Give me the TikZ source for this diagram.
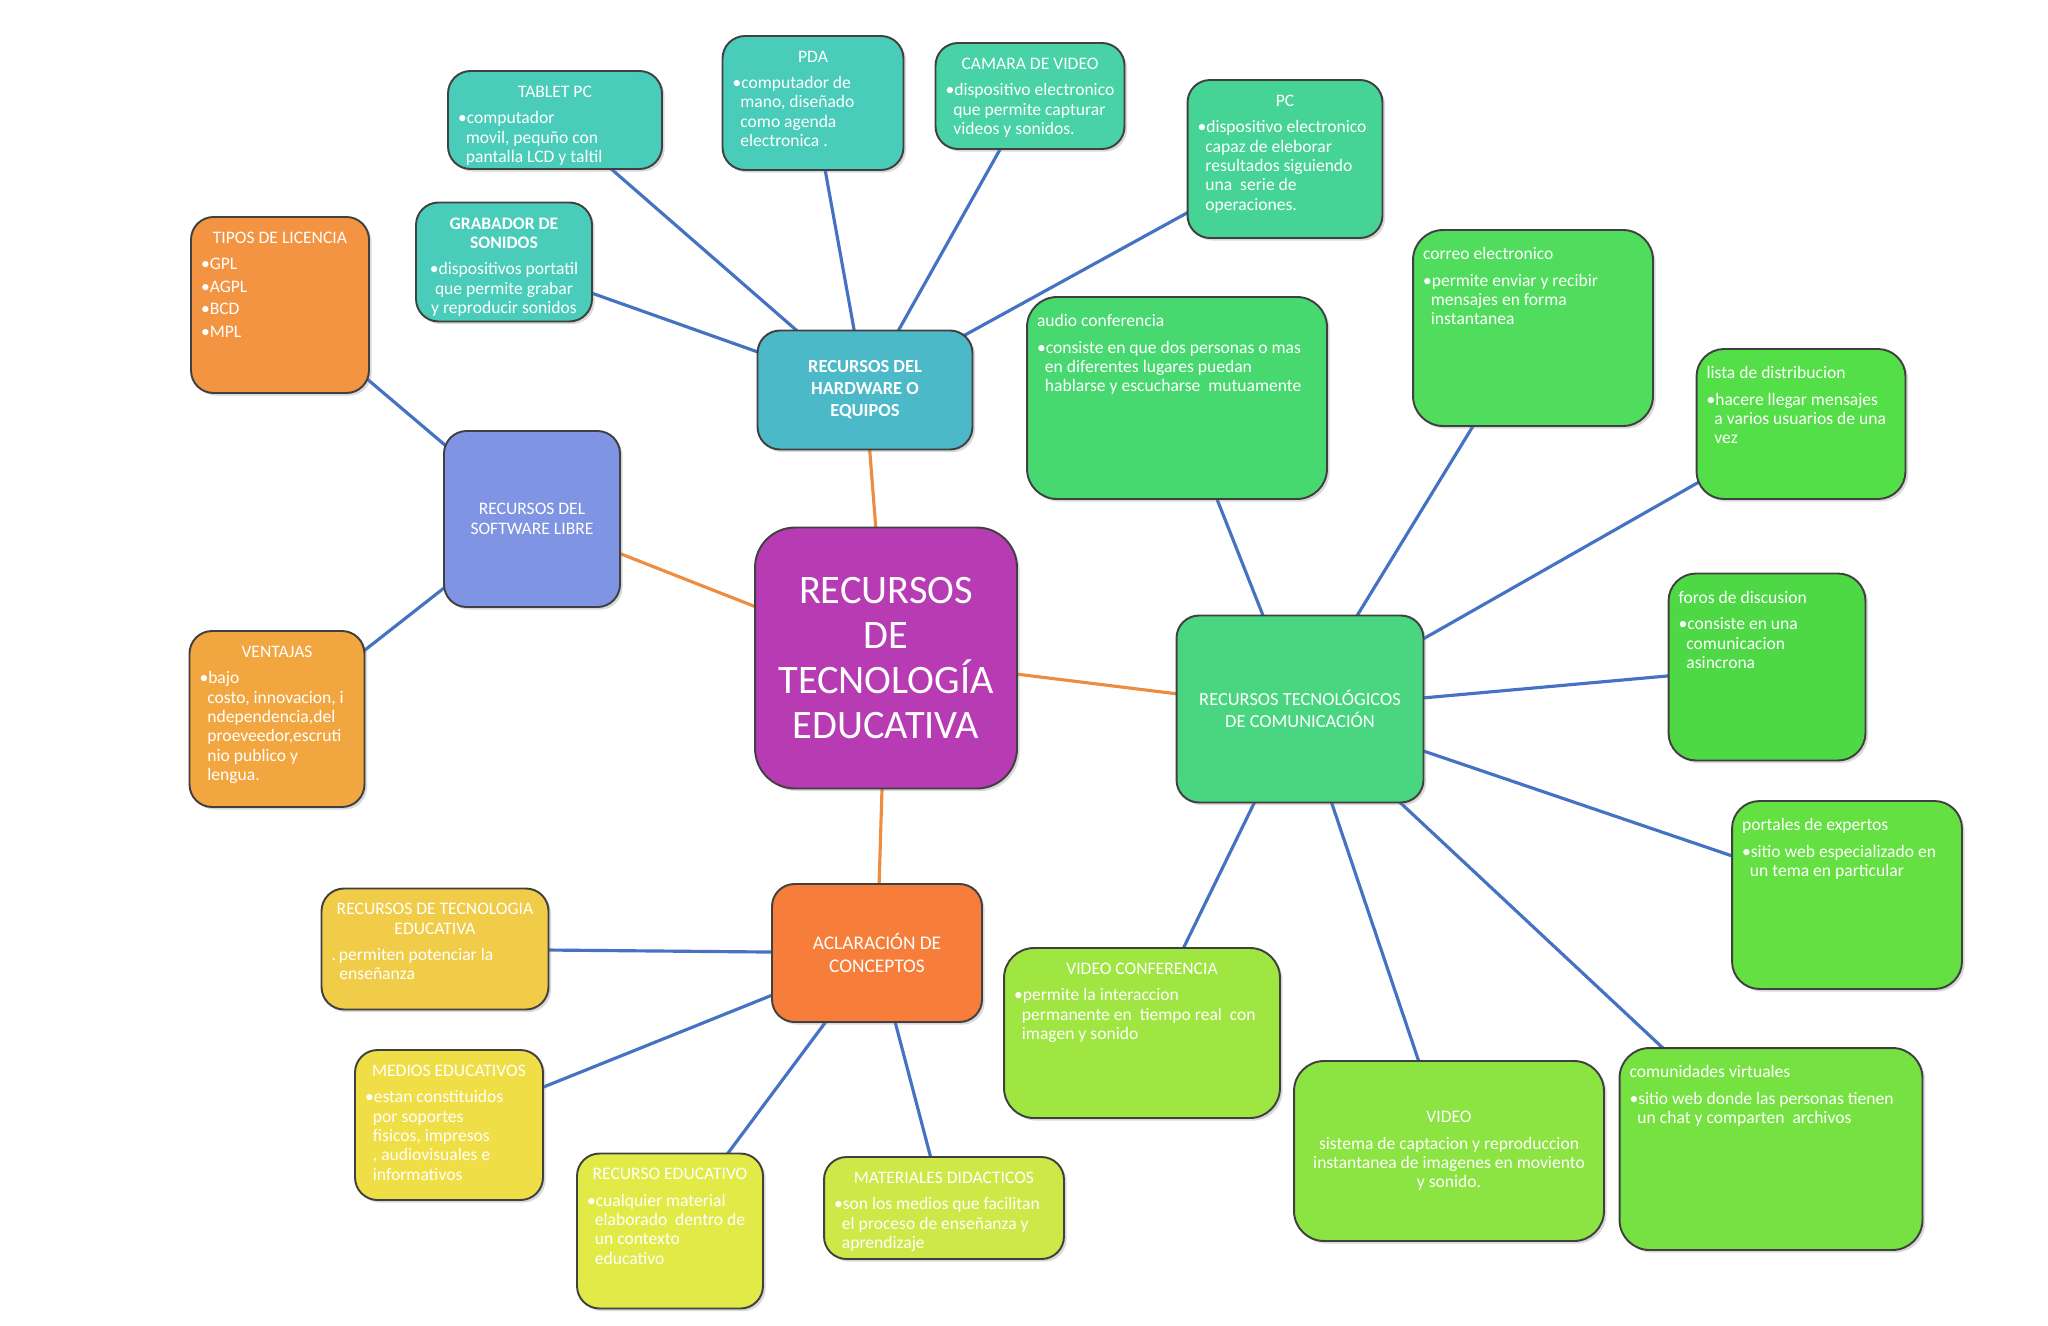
\documentclass[tikz,border=0pt]{standalone}
\usepackage{fontspec}
\setmainfont{Carlito}
\usepackage{tikz}
\usetikzlibrary{backgrounds,shadows}

\definecolor{hubpurple}{RGB}{183,59,178}
\definecolor{hwblue}{RGB}{75,185,200}
\definecolor{devteal}{RGB}{73,204,185}
\definecolor{camgreen}{RGB}{72,210,165}
\definecolor{pcgreen}{RGB}{70,212,150}
\definecolor{swblue}{RGB}{128,148,228}
\definecolor{licorange}{RGB}{242,148,66}
\definecolor{ventorange}{RGB}{242,166,64}
\definecolor{comgreen}{RGB}{74,214,128}
\definecolor{audiogreen}{RGB}{72,216,112}
\definecolor{mailgreen}{RGB}{80,220,92}
\definecolor{listgreen}{RGB}{84,222,72}
\definecolor{forogreen}{RGB}{78,216,70}
\definecolor{portgreen}{RGB}{100,224,66}
\definecolor{comugreen}{RGB}{118,226,66}
\definecolor{videogreen}{RGB}{140,228,66}
\definecolor{vconfgreen}{RGB}{160,230,66}
\definecolor{aclorange}{RGB}{246,126,58}
\definecolor{rteyellow}{RGB}{240,204,72}
\definecolor{medyellow}{RGB}{240,222,70}
\definecolor{recyellow}{RGB}{226,234,72}
\definecolor{matyellow}{RGB}{206,232,72}
\definecolor{linkblue}{RGB}{70,114,196}
\definecolor{linkorange}{RGB}{238,140,64}

\newcommand{\cardbul}[2][\textbullet]{\par{\let\\\newline\hangindent=0.45em\hangafter=1\noindent#1#2\par}}

\begin{document}
\begin{tikzpicture}[x=0.02cm, y=-0.02cm,
    card/.style={rectangle, rounded corners=0.45cm, draw=black!75, line width=1.1pt, text=white, inner xsep=0.2cm, inner ysep=0.3cm, font=\fontsize{10}{11}\selectfont, drop shadow={shadow xshift=1.5pt, shadow yshift=-1.5pt, opacity=0.3}},
    link/.style={draw=linkblue, line width=1.8pt},
    trunk/.style={draw=linkorange, line width=1.8pt}
]
\useasboundingbox (0,0) rectangle (2048,1325);

\node[card, fill=hubpurple, rounded corners=0.8cm, minimum width=5.24cm, minimum height=5.22cm, align=center, font=\fontsize{23}{25.5}\selectfont] (hub) at (886,658) {RECURSOS\\DE\\TECNOLOGÍA\\EDUCATIVA};

\node[card, fill=hwblue, minimum width=4.30cm, minimum height=2.38cm, align=center, font=\bfseries\fontsize{10.5}{12.5}\selectfont] (hw) at (865,390) {RECURSOS DEL\\HARDWARE O\\EQUIPOS};
\node[card, fill=devteal] (tablet) at (555,120) {\parbox[c][1.36cm][t]{3.88cm}{\centering TABLET PC\par\vspace{4pt}\raggedright\cardbul{computador\\movil, pequño con\\pantalla LCD y taltil}}};
\node[card, fill=devteal] (pda) at (813,103) {\parbox[c][2.08cm][t]{3.22cm}{\centering PDA\par\vspace{4pt}\raggedright\cardbul{computador de\\mano, diseñado\\como agenda\\electronica .}}};
\node[card, fill=camgreen] (camara) at (1030,96) {\parbox[c][1.52cm][t]{3.38cm}{\centering CAMARA DE VIDEO\par\vspace{4pt}\raggedright\cardbul{dispositivo electronico\\que permite capturar\\videos y sonidos.}}};
\node[card, fill=pcgreen] (pc) at (1285,159) {\parbox[c][2.56cm][t]{3.50cm}{\centering PC\par\vspace{4pt}\raggedright\cardbul{dispositivo electronico\\capaz de eleborar\\resultados siguiendo\\una\ \ serie de\\operaciones.}}};
\node[card, fill=devteal, inner xsep=0.1cm] (grab) at (504,262) {\parbox[c][1.78cm][t]{3.32cm}{\centering{\bfseries GRABADOR DE\\SONIDOS\par}\vspace{4pt}\textbullet dispositivos portatil\\que permite grabar\\y reproducir sonidos\par}};

\node[card, fill=swblue, minimum width=3.52cm, minimum height=3.52cm, align=center] (soft) at (532,519) {RECURSOS DEL\\SOFTWARE LIBRE};
\node[card, fill=licorange] (tipos) at (280,305) {\parbox[c][2.92cm][t]{3.16cm}{\centering TIPOS DE LICENCIA\par\vspace{4pt}\raggedright\cardbul{GPL}\vspace{1.8pt}\cardbul{AGPL}\vspace{1.8pt}\cardbul{BCD}\vspace{1.8pt}\cardbul{MPL}}};
\node[card, fill=ventorange] (ventajas) at (277,719) {\parbox[c][2.92cm][t]{3.10cm}{\centering VENTAJAS\par\vspace{4pt}\raggedright\cardbul{bajo\\costo, innovacion, i\\ndependencia,del\\proeveedor,escruti\\nio publico y\\lengua.}}};

\node[card, fill=comgreen, minimum width=4.94cm, minimum height=3.74cm, align=center, font=\fontsize{10.5}{12.5}\selectfont] (tec) at (1300,709) {RECURSOS TECNOLÓGICOS\\DE COMUNICACIÓN};
\node[card, fill=audiogreen, rounded corners=0.6cm] (audio) at (1177,398) {\parbox[c][3.44cm][t]{5.60cm}{\raggedright\vspace{1.5pt}audio conferencia\par\vspace{4pt}\cardbul{consiste en que dos personas o mas\\en diferentes lugares puedan\\hablarse y escucharse\ \ mutuamente}}};
\node[card, fill=mailgreen, rounded corners=0.6cm] (correo) at (1533,328) {\parbox[c][3.32cm][t]{4.40cm}{\raggedright\vspace{1.5pt}correo electronico\par\vspace{4pt}\cardbul{permite enviar y recibir\\mensajes en forma\\instantanea}}};
\node[card, fill=listgreen, rounded corners=0.55cm] (lista) at (1801,424) {\parbox[c][2.40cm][t]{3.78cm}{\raggedright\vspace{1.5pt}lista de distribucion\par\vspace{4pt}\cardbul{hacere llegar mensajes\\a varios usuarios de una\\vez}}};
\node[card, fill=forogreen, rounded corners=0.55cm] (foros) at (1767,667) {\parbox[c][3.14cm][t]{3.54cm}{\raggedright\vspace{1.5pt}foros de discusion\par\vspace{4pt}\cardbul{consiste en una\\comunicacion\\asincrona}}};
\node[card, fill=portgreen, rounded corners=0.55cm] (portales) at (1847,895) {\parbox[c][3.16cm][t]{4.20cm}{\raggedright\vspace{1.5pt}portales de expertos\par\vspace{4pt}\cardbul{sitio web especializado en\\un tema en particular}}};
\node[card, fill=comugreen, rounded corners=0.6cm] (comun) at (1771,1149) {\parbox[c][3.44cm][t]{5.66cm}{\raggedright\vspace{1.5pt}comunidades virtuales\par\vspace{4pt}\cardbul{sitio web donde las personas tienen\\un chat y comparten\ \ archivos}}};
\node[card, fill=videogreen, rounded corners=0.6cm, minimum width=6.20cm, minimum height=3.60cm, align=center] (video) at (1449,1151) {VIDEO\\[4pt]sistema de captacion y reproduccion\\instantanea de imagenes en moviento\\y sonido.};
\node[card, fill=vconfgreen, rounded corners=0.6cm] (vconf) at (1142,1033) {\parbox[c][2.80cm][t]{5.12cm}{\centering VIDEO CONFERENCIA\par\vspace{4pt}\raggedright\cardbul{permite la interaccion\\permanente en\ \ tiempo real\ \ con\\imagen y sonido}}};

\node[card, fill=aclorange, minimum width=4.20cm, minimum height=2.76cm, align=center, font=\fontsize{11}{13}\selectfont] (acl) at (877,953) {ACLARACIÓN DE\\CONCEPTOS};
\node[card, fill=rteyellow] (rte) at (435,949) {\parbox[c][1.82cm][t]{4.14cm}{\centering RECURSOS DE TECNOLOGIA\\EDUCATIVA\par\vspace{4pt}\raggedright\cardbul[.\,]{permiten potenciar la\\enseñanza}}};
\node[card, fill=medyellow] (medios) at (449,1125) {\parbox[c][2.40cm][t]{3.36cm}{\centering MEDIOS EDUCATIVOS\par\vspace{4pt}\raggedright\cardbul{estan constituidos\\por soportes\\fisicos, impresos\\, audiovisuales e\\informativos}}};
\node[card, fill=recyellow] (recurso) at (670,1231) {\parbox[c][2.50cm][t]{3.32cm}{\centering RECURSO EDUCATIVO\par\vspace{4pt}\raggedright\cardbul{cualquier material\\elaborado\ \ dentro de\\un contexto\\educativo}}};
\node[card, fill=matyellow] (mater) at (944,1208) {\parbox[c][1.44cm][t]{4.40cm}{\centering MATERIALES DIDACTICOS\par\vspace{4pt}\raggedright\cardbul{son los medios que facilitan\\el proceso de enseñanza y\\aprendizaje}}};

\begin{scope}[on background layer]
\draw[trunk] (hub.center) -- (hw.center);
\draw[trunk] (hub.center) -- (soft.center);
\draw[trunk] (hub.center) -- (tec.center);
\draw[trunk] (hub.center) -- (acl.center);
\draw[link] (hw.center) -- (tablet.center);
\draw[link] (hw.center) -- (pda.center);
\draw[link] (hw.center) -- (camara.center);
\draw[link] (hw.center) -- (pc.center);
\draw[link] (hw.center) -- (grab.center);
\draw[link] (soft.center) -- (tipos.center);
\draw[link] (soft.center) -- (ventajas.center);
\draw[link] (tec.center) -- (audio.center);
\draw[link] (tec.center) -- (correo.center);
\draw[link] (tec.center) -- (lista.center);
\draw[link] (tec.center) -- (foros.center);
\draw[link] (tec.center) -- (portales.center);
\draw[link] (tec.center) -- (comun.center);
\draw[link] (tec.center) -- (video.center);
\draw[link] (tec.center) -- (vconf.center);
\draw[link] (acl.center) -- (rte.center);
\draw[link] (acl.center) -- (medios.center);
\draw[link] (acl.center) -- (recurso.center);
\draw[link] (acl.center) -- (mater.center);
\end{scope}
\end{tikzpicture}
\end{document}
